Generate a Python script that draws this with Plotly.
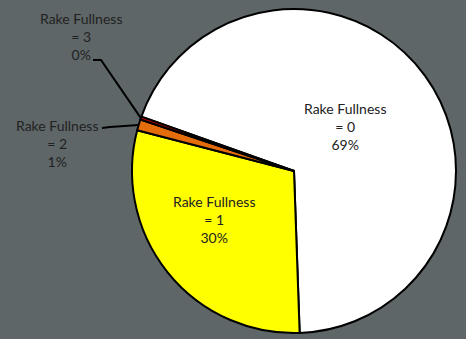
import math
import plotly.graph_objects as go

# ---- data ----
categories = ["Rake Fullness\n= 0", "Rake Fullness\n= 1", "Rake Fullness\n= 2", "Rake Fullness\n= 3"]
values = [69.0, 29.6, 1.1, 0.3]
colors = ["#ffffff", "#ffff00", "#e46c0a", "#c00000"]

W, H = 466, 339
total = sum(values)
pcts = [f"{round(v / total * 100)}%" for v in values]
labels_txt = [c.replace("\n", "<br>") + "<br>" + p for c, p in zip(categories, pcts)]

# pie geometry (pixel layout)
dom_x = [132 / W, 456 / W]
dom_y = [6 / H, 330 / H]
rotation = -70.4
cx = (dom_x[0] + dom_x[1]) / 2 * W
cy = (1 - (dom_y[0] + dom_y[1]) / 2) * H
r = min((dom_x[1] - dom_x[0]) * W, (dom_y[1] - dom_y[0]) * H) / 2

fig = go.Figure(go.Pie(
    labels=categories,
    values=values,
    sort=False,
    direction="clockwise",
    rotation=rotation,
    marker=dict(colors=colors, line=dict(color="#000000", width=2)),
    textinfo="none",
    hoverinfo="skip",
    showlegend=False,
    domain=dict(x=dom_x, y=dom_y),
))


def edge_point(k):
    before = sum(values[:k])
    a = math.radians(rotation + 360 * (before + values[k] / 2) / total)
    px = cx + r * math.sin(a)
    py = cy - r * math.cos(a)
    return px / W, 1 - py / H


font = dict(family="Lato, 'Noto Sans', sans-serif", size=14, color="#222222")

# label placements (pixel centres)
label_pos = [(345, 126), (214, 219), (57, 143), (81, 37)]
annotations = []
for i, (x, y) in enumerate(label_pos):
    annotations.append(dict(
        x=x / W, y=1 - y / H, xref="paper", yref="paper",
        text=labels_txt[i], showarrow=False, align="center",
        xanchor="center", yanchor="middle", font=font,
    ))

# leader lines for outside labels
leader_start = {3: [(93, 60), (101, 60)], 2: [(102, 128), (110, 127)]}
shapes = []
for k, pts in leader_start.items():
    ex, ey = edge_point(k)
    path = f"M {pts[0][0] / W} {1 - pts[0][1] / H} L {pts[1][0] / W} {1 - pts[1][1] / H} L {ex} {ey}"
    shapes.append(dict(type="path", xref="paper", yref="paper", path=path,
                       line=dict(color="#000000", width=2)))

fig.update_layout(
    width=W, height=H,
    margin=dict(l=0, r=0, t=0, b=0),
    paper_bgcolor="#5e6668",
    plot_bgcolor="#5e6668",
    annotations=annotations,
    shapes=shapes,
)

fig.write_html("out.html")
